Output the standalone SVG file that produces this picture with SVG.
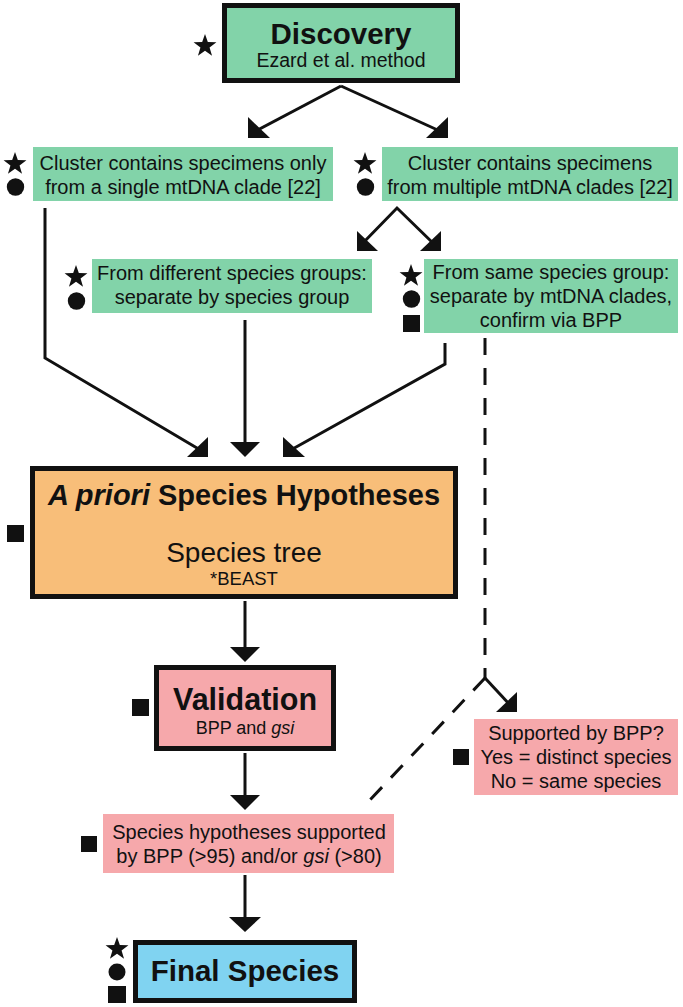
<svg xmlns="http://www.w3.org/2000/svg" xmlns:xlink="http://www.w3.org/1999/xlink" width="683" height="1007" viewBox="0 0 683 1007">
<style>
text{font-family:"Liberation Sans",Arial,sans-serif;fill:#111;text-anchor:middle}
.g{fill:#82d3a9}
.o{fill:#f8be79}
.p{fill:#f6a8ab}
.b{fill:#80d3f1}
.thick{stroke:#111;stroke-width:5}
.t{font-size:20px}
.big{font-weight:bold}
.c{stroke:#111;stroke-width:3;fill:none}
.d{stroke:#111;stroke-width:3;fill:none;stroke-dasharray:17 13}
.h{fill:#111}
.sym{fill:#111}
</style>
<defs>
<path id="star" d="M0,-12 L2.82,-3.89 L11.42,-3.7 L4.56,1.49 L7.05,9.7 L0,4.8 L-7.05,9.7 L-4.56,1.49 L-11.42,-3.7 L-2.82,-3.89 Z"/>
</defs>

<g id="connectors">
<line class="c" x1="341" y1="86" x2="254" y2="132"/>
<polygon class="h" points="248,138 248,117 270,138"/>
<line class="c" x1="341" y1="86" x2="442" y2="132"/>
<polygon class="h" points="448,138 448,117 426,138"/>

<polyline class="c" points="361,245 397,208 435,245"/>
<polygon class="h" points="357,251 357,231 378,251"/>
<polygon class="h" points="441,251 441,231 420,251"/>

<polyline class="c" points="45,208 45,358 202,451"/>
<polygon class="h" points="208,457 208,437 187,457"/>
<line class="c" x1="245" y1="320" x2="245" y2="443"/>
<polygon class="h" points="230,442 260,442 245,457"/>
<polyline class="c" points="445,343 445,364 289,451"/>
<polygon class="h" points="283,457 283,437 305,457"/>

<line class="d" x1="485" y1="338" x2="485" y2="678"/>
<line class="d" x1="485" y1="678" x2="368" y2="802"/>
<line class="c" x1="485" y1="678" x2="511" y2="706"/>
<polygon class="h" points="517,692 517,712 496,712"/>

<line class="c" x1="245" y1="601" x2="245" y2="648"/>
<polygon class="h" points="230,647 260,647 245,662"/>
<line class="c" x1="245" y1="753" x2="245" y2="796"/>
<polygon class="h" points="230,795 260,795 245,810"/>
<line class="c" x1="245" y1="875" x2="245" y2="918"/>
<polygon class="h" points="229,917 261,917 245,932"/>
</g>

<g id="discovery">
<rect class="g thick" x="224.5" y="5.5" width="233" height="75"/>
<text class="big" x="341" y="44" font-size="29.5">Discovery</text>
<text x="341" y="67" font-size="19.5">Ezard et al. method</text>
<use xlink:href="#star" x="205" y="46" class="sym"/>
</g>

<g id="single-clade">
<rect class="g" x="33" y="147" width="300" height="54"/>
<text class="t" x="183" y="170">Cluster contains specimens only</text>
<text class="t" x="183" y="194">from a single mtDNA clade [22]</text>
<use xlink:href="#star" x="15" y="164" class="sym"/>
<circle class="sym" cx="15.5" cy="187" r="8.7"/>
</g>

<g id="multi-clade">
<rect class="g" x="382" y="147" width="296" height="54"/>
<text class="t" x="530" y="170">Cluster contains specimens</text>
<text class="t" x="530" y="194">from multiple mtDNA clades [22]</text>
<use xlink:href="#star" x="365" y="164" class="sym"/>
<circle class="sym" cx="365.5" cy="187" r="8.7"/>
</g>

<g id="diff-groups">
<rect class="g" x="92" y="259" width="280" height="54"/>
<text class="t" x="232" y="280">From different species groups:</text>
<text class="t" x="232" y="304">separate by species group</text>
<use xlink:href="#star" x="76" y="277" class="sym"/>
<circle class="sym" cx="76.5" cy="301" r="8.7"/>
</g>

<g id="same-group">
<rect class="g" x="424" y="259" width="254" height="74"/>
<text class="t" x="551" y="279">From same species group:</text>
<text class="t" x="551" y="303">separate by mtDNA clades,</text>
<text class="t" x="551" y="327">confirm via BPP</text>
<use xlink:href="#star" x="411" y="276" class="sym"/>
<circle class="sym" cx="411.5" cy="299" r="8.7"/>
<rect class="sym" x="403" y="315" width="17" height="17"/>
</g>

<g id="apriori">
<rect class="o thick" x="32.5" y="468.5" width="423" height="128"/>
<text class="big" x="244" y="505" font-size="29"><tspan font-style="italic">A priori</tspan> Species Hypotheses</text>
<text x="244" y="562" font-size="28">Species tree</text>
<text x="244" y="585" font-size="18.5">*BEAST</text>
<rect class="sym" x="7" y="525" width="17" height="17"/>
</g>

<g id="validation">
<rect class="p thick" x="156.5" y="667.5" width="177" height="81"/>
<text class="big" x="245" y="710" font-size="30.5">Validation</text>
<text x="245" y="734" font-size="18">BPP and <tspan font-style="italic">gsi</tspan></text>
<rect class="sym" x="132" y="699" width="17" height="17"/>
</g>

<g id="supported-bpp">
<rect class="p" x="474" y="719" width="204" height="76"/>
<text class="t" x="576" y="740">Supported by BPP?</text>
<text class="t" x="576" y="764">Yes = distinct species</text>
<text class="t" x="576" y="788">No = same species</text>
<rect class="sym" x="453" y="749" width="16" height="16"/>
</g>

<g id="hypotheses-supported">
<rect class="p" x="103" y="814" width="291" height="59"/>
<text class="t" x="249" y="839">Species hypotheses supported</text>
<text class="t" x="249" y="863">by BPP (&gt;95) and/or <tspan font-style="italic">gsi</tspan> (&gt;80)</text>
<rect class="sym" x="81" y="836" width="16" height="16"/>
</g>

<g id="final">
<rect class="b thick" x="135.5" y="942.5" width="219" height="58"/>
<text class="big" x="245" y="981" font-size="29.5">Final Species</text>
<use xlink:href="#star" x="117" y="949" class="sym"/>
<circle class="sym" cx="117" cy="972" r="8.5"/>
<rect class="sym" x="108" y="986" width="18" height="17"/>
</g>
</svg>
